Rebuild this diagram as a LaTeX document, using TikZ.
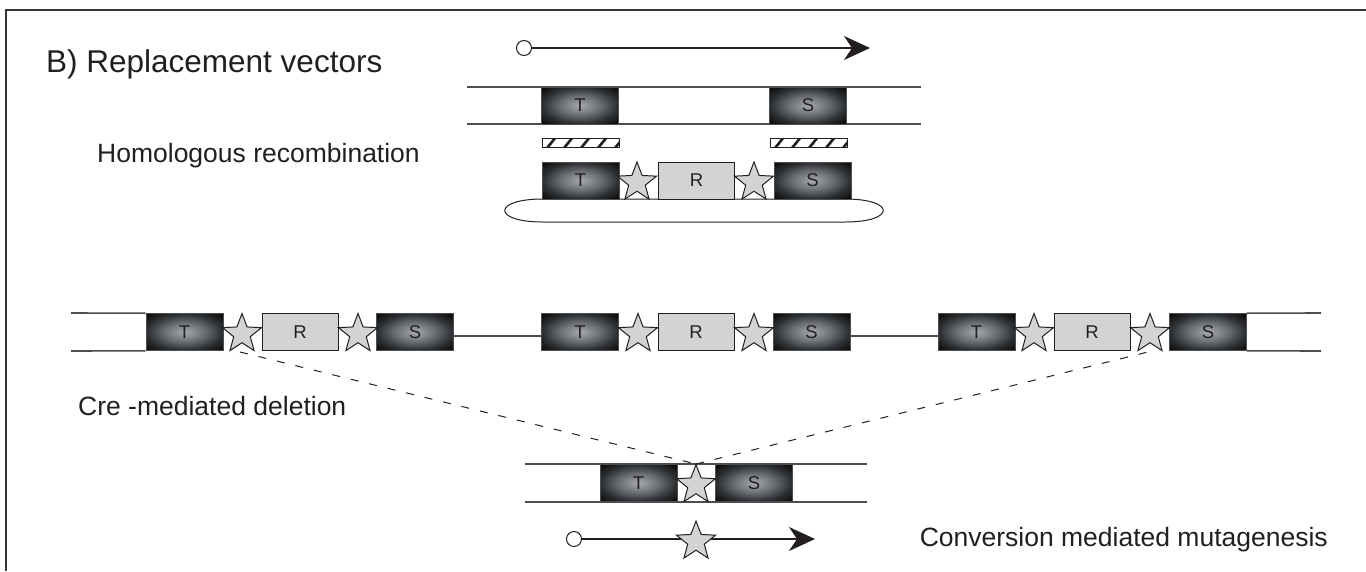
\documentclass[tikz,border=0pt]{standalone}
\usepackage{fontspec}
\setmainfont{Liberation Sans}
\usetikzlibrary{shapes.geometric,arrows.meta,calc}
\definecolor{ink}{HTML}{231F20}
\definecolor{lgray}{HTML}{D1D3D4}
\definecolor{chr}{HTML}{4D4D4F}
\definecolor{bcA}{HTML}{A6AAAD}
\definecolor{bcB}{HTML}{6A6E72}
\definecolor{bcC}{HTML}{2E3133}
\definecolor{bcD}{HTML}{0D0E0F}
\pgfdeclareradialshading{boxshade}{\pgfpoint{0bp}{0bp}}{color(0bp)=(bcA); color(13bp)=(bcB); color(24bp)=(bcC); color(33bp)=(bcD); color(50bp)=(bcD)}
\tikzset{
  dbox/.style={rectangle, minimum width=77pt, minimum height=37pt, inner sep=0pt, shading=boxshade, draw=chr, line width=0.6pt, text=ink, font=\fontsize{18.5}{20}\selectfont},
  rbox/.style={rectangle, minimum width=76pt, minimum height=37pt, inner sep=0pt, fill=lgray, draw=ink, line width=1pt, text=ink, font=\fontsize{18.5}{20}\selectfont},
  gstar/.style={star, star points=5, star point ratio=2.35, minimum size=41pt, inner sep=0pt, fill=lgray, draw=ink, line width=1pt},
  chrom/.style={draw=chr, line width=1.6pt},
  lbl/.style={inner sep=0pt, text=ink, font=\fontsize{26.5}{30}\selectfont},
  dline/.style={draw=ink, line width=1pt, dash pattern=on 8pt off 11pt},
  arr/.style={draw=ink, line width=1.2pt, -{Stealth[length=26pt,width=24pt,inset=8pt]}},
  origin/.style={circle, minimum size=15pt, inner sep=0pt, draw=ink, line width=1pt, fill=white}
}
\begin{document}
\begin{tikzpicture}[x=1pt,y=-1pt]
\useasboundingbox (0,0) rectangle (1366,571);
% frame
\coordinate (fr1) at (1366,10);
\coordinate (fr2) at (6,10);
\coordinate (fr3) at (6,571);
\draw[draw=ink!90, line width=1.3pt] (fr1) -- (fr2) -- (fr3);

% labels
\node[lbl, anchor=base west, font=\fontsize{31.5}{36}\selectfont] (title) at (46,72) {B) Replacement vectors};
\node[lbl, anchor=base west] (hom) at (97,162) {Homologous recombination};
\node[lbl, anchor=base west] (cre) at (78,415) {Cre -mediated deletion};
\node[lbl, anchor=base east] (conv) at (1328,546) {Conversion mediated mutagenesis};

% top arrow
\node[origin] (o1) at (524,48) {};
\coordinate (a1) at (870,48);
\draw[arr] (o1) -- (a1);

% top chromosome
\coordinate (t1a) at (467,87); \coordinate (t1b) at (921,87);
\coordinate (t2a) at (467,124); \coordinate (t2b) at (921,124);
\draw[chrom] (t1a) -- (t1b);
\draw[chrom] (t2a) -- (t2b);
\node[dbox] (tT) at (580,105.5) {T};
\node[dbox] (tS) at (808,105.5) {S};

% hatched bars
\foreach \hx in {542,770}{
  \begin{scope}
    \clip (\hx,138) rectangle ++(77,9);
    \foreach \k in {0,...,4}{
      \draw[ink, line width=2.6pt] (\hx+5+\k*17,148) -- (\hx+14+\k*17,137);
    }
  \end{scope}
  \draw[draw=ink, line width=1pt] (\hx,138) rectangle ++(77,9);
}

% vector backbone
\coordinate (p1) at (543,199); \coordinate (p2) at (845,199);
\coordinate (p3) at (845,222); \coordinate (p4) at (543,222);
\draw[draw=ink, line width=1pt] (p1) -- (p2) .. controls (896,199) and (896,222) .. (p3) -- (p4) .. controls (492,222) and (492,199) .. (p1);
\node[dbox] (vT) at (580.5,180.5) {T};
\node[gstar] (vs1) at (637,182.5) {};
\node[rbox] (vR) at (696.5,180.5) {R};
\node[gstar] (vs2) at (754,182.5) {};
\node[dbox] (vS) at (812.5,180.5) {S};

% middle row
\coordinate (m1a) at (71,313); \coordinate (m2a) at (71,351);
\coordinate (m1b) at (1321,313); \coordinate (m2b) at (1321,351);
\node[dbox] (aT) at (184.5,332) {T};
\node[rbox] (aR) at (300,332) {R};
\node[dbox] (aS) at (415,332) {S};
\node[dbox] (bT) at (580,332) {T};
\node[rbox] (bR) at (696,332) {R};
\node[dbox] (bS) at (811.5,332) {S};
\node[dbox] (cT) at (976.5,332) {T};
\node[rbox] (cR) at (1092,332) {R};
\node[dbox] (cS) at (1208,332) {S};
\draw[chrom] (m1a) -- (aT.north west);
\draw[chrom] (m2a) -- (aT.south west);
\draw[chrom] (cS.north east) -- (m1b);
\draw[chrom] (cS.south east) -- (m2b);
\draw[chrom] ($(aS.east)+(0,4)$) -- ($(bT.west)+(0,4)$);
\draw[chrom] ($(bS.east)+(0,4)$) -- ($(cT.west)+(0,4)$);

% bottom chromosome
\coordinate (u1a) at (525,464); \coordinate (u1b) at (867,464);
\coordinate (u2a) at (525,502); \coordinate (u2b) at (867,502);
\draw[chrom] (u1a) -- (u1b);
\draw[chrom] (u2a) -- (u2b);
\node[dbox] (uT) at (638.5,483) {T};
\node[dbox] (uS) at (754,483) {S};
\coordinate (uStop) at (696,464);

% dashed deletion lines
\coordinate (dL) at (240,352);
\coordinate (dR) at (1148,352);
\draw[dline] (dL) -- (uStop);
\draw[dline] (uStop) -- (dR);

% middle stars
\node[gstar] (as1) at (242,334) {};
\node[gstar] (as2) at (358,334) {};
\node[gstar] (bs1) at (638,334) {};
\node[gstar] (bs2) at (754,334) {};
\node[gstar] (cs1) at (1034,334) {};
\node[gstar] (cs2) at (1150,334) {};
\node[gstar] (us) at (696,485) {};

% bottom arrow
\node[origin] (o2) at (574,539) {};
\coordinate (a2) at (815,539);
\draw[arr] (o2) -- (a2);
\node[gstar] (ls) at (696,541.5) {};
\end{tikzpicture}
\end{document}
